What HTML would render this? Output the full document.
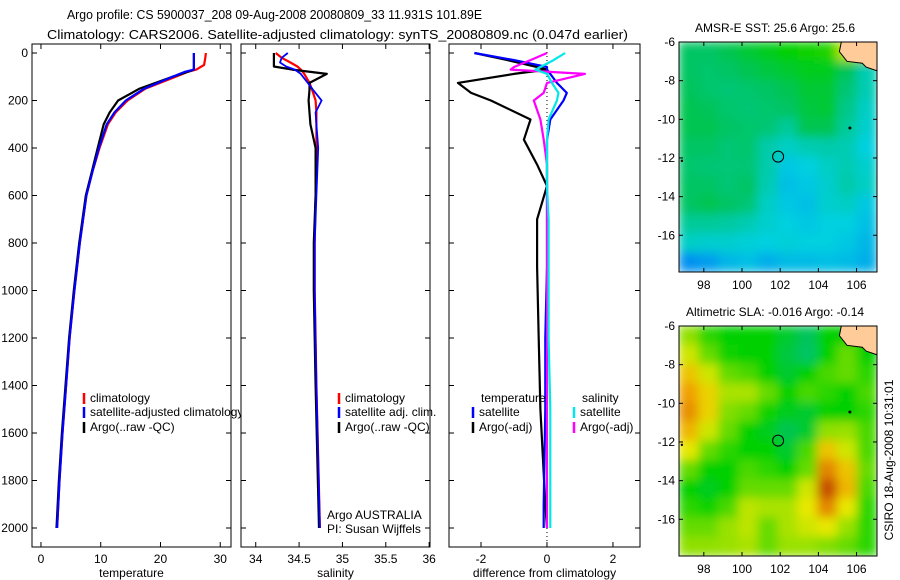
<!DOCTYPE html>
<html><head><meta charset="utf-8">
<style>
body{margin:0;background:#fff;}
svg{display:block;font-family:"Liberation Sans",sans-serif;}
</style></head>
<body>
<svg id="fig" width="900" height="580" viewBox="0 0 900 580" xmlns="http://www.w3.org/2000/svg">
<defs>
<filter id="soft" x="0" y="0" width="1" height="1"><feGaussianBlur stdDeviation="5"/></filter>
<clipPath id="clipm1"><rect x="679" y="42" width="198" height="230"/></clipPath>
<clipPath id="clipm2"><rect x="679" y="326" width="198" height="230"/></clipPath>
</defs>
<text x="67" y="19" font-size="13" textLength="415" lengthAdjust="spacingAndGlyphs">Argo profile: CS 5900037_208 09-Aug-2008 20080809_33 11.931S 101.89E</text>
<text x="47" y="39" font-size="13" textLength="581" lengthAdjust="spacingAndGlyphs">Climatology: CARS2006. Satellite-adjusted climatology: synTS_20080809.nc (0.047d earlier)</text>
</svg>
<script>
// ---------- data ----------
const tempDepth = [0,20,50,70,80,100,150,200,250,300,400,500,600,800,1000,1200,1400,1600,1800,2000];
const tempClim  = [27.6,27.5,27.3,26,24.5,22.5,17.5,14.5,12.5,11.2,9.8,8.6,7.6,6.5,5.6,4.8,4.2,3.6,3.1,2.7];
const tempSat   = [25.6,25.6,25.6,25.6,24,22,17.3,14.2,12.3,11.0,9.7,8.6,7.6,6.5,5.6,4.8,4.2,3.6,3.1,2.7];
const tempArgo  = [25.6,25.6,25.6,25.6,24.5,22,16.5,12.9,11.5,10.5,9.5,8.5,7.5,6.4,5.5,4.7,4.1,3.5,3.0,2.6];

const salDepth = [0,20,40,57,70,88,126,155,200,250,300,400,600,800,1000,1400,2000];
const salClim  = [34.23,34.3,34.4,34.48,34.52,34.56,34.62,34.65,34.69,34.7,34.7,34.7,34.69,34.68,34.68,34.7,34.74];
const salSat   = [34.37,34.3,34.28,34.35,34.45,34.52,34.6,34.66,34.76,34.69,34.7,34.72,34.7,34.68,34.68,34.7,34.74];
const salArgo  = [34.21,34.21,34.21,34.21,34.42,34.82,34.62,34.62,34.61,34.62,34.63,34.69,34.69,34.67,34.67,34.69,34.73];

const difDepth = [0,30,59,70,88,126,168,200,280,365,470,560,700,900,1200,1500,1900,2000];
const difTempArgo = [-2.2,-1.2,-0.3,0,-1.0,-2.7,-2.3,-1.7,-0.5,-0.7,-0.3,0,-0.3,-0.3,-0.25,-0.2,-0.05,0];
const difTempSat  = [-2.2,-1.0,0,0,0.1,0.3,0.6,0.5,0.1,0,0,0,0,0,-0.05,-0.05,-0.1,-0.1];
const difSalArgo  = [0,-0.5,-1.0,-1.1,1.15,0,-0.1,-0.4,-0.2,-0.1,0,0,0,0,0,0,0,0];
const difSalSat   = [0.55,0.2,-0.2,-0.35,0,0.15,0.35,0.3,0.05,0,0,0,0.05,0.05,0.05,0.1,0.1,0.1];

const depthTicks = [0,200,400,600,800,1000,1200,1400,1600,1800,2000];
const tempTicks = [0,10,20,30];
const salTicks = [34,34.5,35,35.5,36];
const salTickLabels = ["34","34.5","35","35.5","36"];
const difTicks = [-2,0,2];
const lonTicks = [98,100,102,104,106];
const latTicks = [-6,-8,-10,-12,-14,-16];

// SST field (normalised colour index), rows north->south, cols west->east
const sstGrid = [
[.44,.44,.46,.49,.52,.55,.56,.57,.70,.70],
[.44,.43,.44,.46,.48,.50,.52,.52,.45,.35],
[.45,.43,.42,.43,.44,.46,.49,.49,.42,.35],
[.46,.45,.43,.42,.43,.44,.48,.49,.40,.33],
[.46,.46,.44,.43,.42,.38,.46,.46,.38,.32],
[.44,.44,.42,.43,.36,.33,.35,.36,.35,.30],
[.43,.42,.42,.42,.36,.28,.30,.33,.35,.32],
[.44,.44,.42,.44,.35,.26,.28,.32,.36,.33],
[.44,.46,.44,.42,.33,.28,.26,.32,.33,.28],
[.38,.38,.37,.35,.32,.30,.28,.30,.30,.26],
[.33,.32,.32,.31,.30,.31,.30,.30,.28,.24],
[.15,.18,.24,.26,.22,.25,.25,.26,.25,.22]];
const slaGrid = [
[.65,.58,.55,.55,.55,.50,.45,.55,.55,.55],
[.72,.62,.56,.55,.55,.48,.44,.55,.62,.55],
[.80,.72,.62,.60,.55,.50,.55,.60,.62,.58],
[.85,.78,.68,.68,.62,.55,.60,.58,.55,.60],
[.87,.78,.64,.62,.56,.52,.50,.55,.55,.58],
[.82,.72,.62,.55,.52,.46,.50,.65,.66,.60],
[.75,.62,.58,.55,.55,.50,.60,.80,.72,.60],
[.62,.55,.55,.60,.58,.55,.62,.88,.80,.62],
[.55,.52,.55,.62,.62,.62,.72,.95,.82,.60],
[.58,.56,.60,.70,.68,.68,.75,.88,.75,.58],
[.62,.62,.66,.70,.62,.68,.72,.75,.66,.58],
[.65,.65,.66,.68,.62,.66,.66,.64,.62,.58]];
const floatLon = 101.89, floatLat = -11.93;

// ---------- helpers ----------
const NS="http://www.w3.org/2000/svg";
const svg=document.getElementById('fig');
function mk(tag,attrs,parent){const e=document.createElementNS(NS,tag);for(const k in attrs)e.setAttribute(k,attrs[k]);(parent||svg).appendChild(e);return e;}
function txt(x,y,s,anchor,size,parent){const t=mk('text',{x:x,y:y,'font-size':size||12,'text-anchor':anchor||'start'},parent);t.textContent=s;return t;}

const Y0=53, PXD=0.2375;
function yD(d){return Y0+d*PXD;}
const PT={x:32,y:44,w:199,h:503, v0:-1.5, v1:31.8};
const PS={x:241,y:44,w:189,h:503, v0:33.83, v1:36.01};
const PD={x:449,y:44,w:191,h:503, v0:-2.97, v1:2.82};
function xf(p){return v=>p.x+(v-p.v0)/(p.v1-p.v0)*p.w;}

function panel(p,name,ticks,labels,xlabel,showY){
  const g=mk('g',{});
  
  
  const r=mk('rect',{x:p.x,y:p.y,width:p.w,height:p.h,fill:'#fff',stroke:'#000','stroke-width':1},g);
  
  
  const X=xf(p);
  ticks.forEach((t,i)=>{
    const x=X(t);
    mk('line',{x1:x,x2:x,y1:p.y+p.h,y2:p.y+p.h-5,stroke:'#000'},g);
    mk('line',{x1:x,x2:x,y1:p.y,y2:p.y+5,stroke:'#000'},g);
    const tl=txt(x,p.y+p.h+16,labels[i],'middle',12,g);
    
    
  });
  depthTicks.forEach(d=>{
    const y=yD(d);
    mk('line',{x1:p.x,x2:p.x+5,y1:y,y2:y,stroke:'#000'},g);
    mk('line',{x1:p.x+p.w,x2:p.x+p.w-5,y1:y,y2:y,stroke:'#000'},g);
    if(showY){const tl=txt(p.x-4,y+4,String(d),'end',12,g);
      
      }
  });
  const xl=txt(p.x+p.w/2,p.y+p.h+30,xlabel,'middle',12,g);
  
  
  return g;
}
function series(p,depths,vals,color,name,w){
  const X=xf(p);
  const pts=depths.map((d,i)=>X(vals[i]).toFixed(1)+','+yD(d).toFixed(1)).join(' ');
  const pl=mk('polyline',{points:pts,fill:'none',stroke:color,'stroke-width':w||2.2,'stroke-linejoin':'round'});
  
  
}
function legend(x,y,color,label,name){
  if(color){const l=mk('line',{x1:x,x2:x,y1:y-9,y2:y+2,stroke:color,'stroke-width':2.5});
    
    }
  const t=txt(x+6,y,label,'start',12);
  
  
}

panel(PT,'temperature-panel',tempTicks,tempTicks.map(String),'temperature',true);
series(PT,tempDepth,tempClim,'#ff0000','temp-climatology-line');
series(PT,tempDepth,tempArgo,'#000000','temp-argo-line');
series(PT,tempDepth,tempSat,'#0000ff','temp-satellite-line');
legend(84,402,'#ff0000','climatology','legend-climatology');
legend(84,416,'#0000ff','satellite-adjusted climatology','legend-satellite-adjusted');
legend(84,431,'#000000','Argo(..raw -QC)','legend-argo-raw');

panel(PS,'salinity-panel',salTicks,salTickLabels,'salinity',false);
series(PS,salDepth,salClim,'#ff0000','sal-climatology-line');
series(PS,salDepth,salArgo,'#000000','sal-argo-line');
series(PS,salDepth,salSat,'#0000ff','sal-satellite-line',1.8);
legend(339,402,'#ff0000','climatology','legend-sal-climatology');
legend(339,416,'#0000ff','satellite adj. clim.','legend-sal-satellite');
legend(339,431,'#000000','Argo(..raw -QC)','legend-sal-argo');
legend(321,519,null,'Argo AUSTRALIA','argo-australia-label');
legend(321,533,null,'PI: Susan Wijffels','pi-label');

panel(PD,'difference-panel',difTicks,difTicks.map(String),'difference from climatology',false);
(function(){const X=xf(PD);const l=mk('line',{x1:X(0),x2:X(0),y1:PD.y,y2:PD.y+PD.h,stroke:'#000','stroke-dasharray':'1,3'});

})();
series(PD,difDepth,difTempArgo,'#000000','diff-temp-argo-line');
series(PD,difDepth,difTempSat,'#0000ff','diff-temp-satellite-line');
series(PD,difDepth,difSalArgo,'#ff00ff','diff-sal-argo-line');
series(PD,difDepth,difSalSat,'#00e8e8','diff-sal-satellite-line');
legend(475,402,null,'temperature','legend-temperature-heading');
legend(473,416,'#0000ff','satellite','legend-temp-satellite');
legend(473,431,'#000000','Argo(-adj)','legend-temp-argo');
legend(576,402,null,'salinity','legend-salinity-heading');
legend(574,416,'#00e8e8','satellite','legend-sal-satellite-diff');
legend(574,431,'#ff00ff','Argo(-adj)','legend-sal-argo-diff');

// ---------- maps ----------
const stops=[[0,[0,64,192]],[.15,[0,144,240]],[.3,[0,208,224]],[.45,[0,196,90]],[.55,[0,208,0]],[.65,[144,224,0]],[.75,[232,232,0]],[.85,[240,160,0]],[1,[176,32,0]]];
function cmap(v){for(let i=1;i<stops.length;i++){if(v<=stops[i][0]){const a=stops[i-1],b=stops[i];const t=(v-a[0])/(b[0]-a[0]);return 'rgb('+a[1].map((c,k)=>Math.round(c+(b[1][k]-c)*t)).join(',')+')';}}return 'rgb(176,32,0)';}
const LON0=96.7,LON1=107.07,LAT0=-6,LAT1=-17.9;
function map(top,grid,title,name,clip){
  const M={x:679,y:top,w:198,h:230};
  const lx=lon=>M.x+(lon-LON0)/(LON1-LON0)*M.w;
  const ly=lat=>M.y+(lat-LAT0)/(LAT1-LAT0)*M.h;
  const g=mk('g',{'clip-path':'url(#'+clip+')'});
  
  
  const inner=mk('g',{filter:'url(#soft)'},g);
  const rows=grid.length,cols=grid[0].length;
  const cw=M.w/cols,ch=M.h/rows;
  grid.forEach((row,r)=>row.forEach((v,c)=>{
    const cell=mk('rect',{x:M.x+c*cw-0.5,y:M.y+r*ch-0.5,width:cw+1,height:ch+1,fill:cmap(v)},inner);
    
    
  }));
  const land=mk('path',{d:`M${lx(105.2)},${ly(-6)} L${lx(105.1)},${ly(-6.5)} L${lx(105.5)},${ly(-7.0)} L${lx(106.3)},${ly(-7.1)} L${lx(106.5)},${ly(-7.3)} L${lx(107.1)},${ly(-7.5)} L${lx(107.1)},${ly(-6)} Z`,fill:'#ffcc99',stroke:'#000','stroke-width':1},g);
  
  
  const f=mk('rect',{x:M.x,y:M.y,width:M.w,height:M.h,fill:'none',stroke:'#000'});
  
  
  lonTicks.forEach(l=>{const x=lx(l);mk('line',{x1:x,x2:x,y1:M.y,y2:M.y+4,stroke:'#000'});mk('line',{x1:x,x2:x,y1:M.y+M.h,y2:M.y+M.h-4,stroke:'#000'});
    const t=txt(x,M.y+M.h+17,String(l),'middle',12);
    
    });
  latTicks.forEach(l=>{const y=ly(l);mk('line',{x1:M.x,x2:M.x+4,y1:y,y2:y,stroke:'#000'});mk('line',{x1:M.x+M.w,x2:M.x+M.w-4,y1:y,y2:y,stroke:'#000'});
    const t=txt(M.x-4,y+4,String(l),'end',12);
    
    });
  const c=mk('circle',{cx:lx(floatLon),cy:ly(floatLat),r:5.5,fill:'none',stroke:'#000','stroke-width':1});
  
  
  const i1=mk('circle',{cx:lx(105.65),cy:ly(-10.45),r:1.5,fill:'#000'});
  
  
  const i2=mk('circle',{cx:lx(96.85),cy:ly(-12.15),r:1.2,fill:'#000'});
  
  
  const tt=txt(M.x+M.w/2-3,M.y-10,title,'middle',12);
  
  
}
map(42,sstGrid,'AMSR-E SST: 25.6 Argo: 25.6','sst-map','clipm1');
map(326,slaGrid,'Altimetric SLA: -0.016 Argo: -0.14','sla-map','clipm2');
const stamp=txt(0,0,'CSIRO 18-Aug-2008 10:31:01','middle',12);
stamp.setAttribute('transform','translate(893,460) rotate(-90)');


</script>
</body></html>
